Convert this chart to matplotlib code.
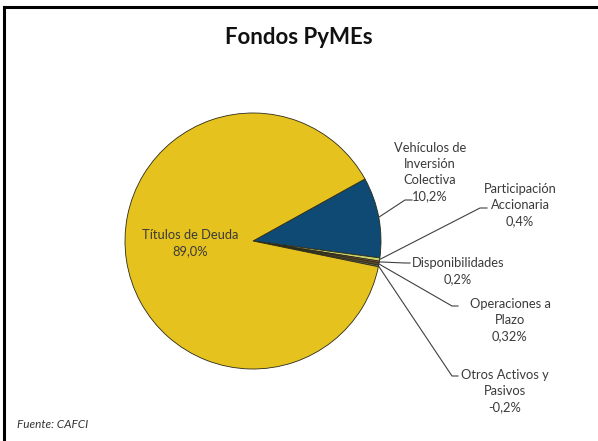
import numpy as np
import matplotlib.pyplot as plt
from matplotlib.lines import Line2D

plt.rcParams['font.family'] = ['Lato', 'DejaVu Sans']

# datos (orden horario desde el borde superior de la porcion azul)
categorias = ['Vehículos de\nInversión\nColectiva', 'Participación\nAccionaria',
              'Disponibilidades', 'Operaciones a\nPlazo',
              'Otros Activos y\nPasivos', 'Títulos de Deuda']
valores = [10.2, 0.4, 0.2, 0.32, -0.2, 89.0]
etiquetas = ['10,2%', '0,4%', '0,2%', '0,32%', '-0,2%', '89,0%']
colores = ['#0E4A74', '#C9D46A', '#B0603A', '#5A4A2A', '#7F7F7F', '#E6C21E']

W, H = 598, 441
fig = plt.figure(figsize=(W / 100, H / 100), dpi=100)
ax = fig.add_axes([0, 0, 1, 1])

cx, cy, r = 253, H - 241, 128
wedges, _ = ax.pie(np.abs(valores), colors=colores, startangle=29, counterclock=False,
                   center=(cx, cy), radius=r, frame=True,
                   wedgeprops=dict(edgecolor='#2b2b1a', linewidth=0.6))
ax.set_xlim(0, W)
ax.set_ylim(0, H)
ax.set_aspect('equal')
ax.axis('off')

# posiciones de las etiquetas (pixeles): centro del texto, fin del conector
pos = [(430, 172, (405, 200), (412, 200)),
       (520, 205, (480, 208), (487, 208)),
       (458, 271, (405, 263), (410, 263)),
       (510, 320, (452, 306), (458, 306)),
       (505, 391, (452, 376), (458, 376))]

txtcol = '#3a3a3a'
for w, cat, lab, (tx, ty, p1, p2) in zip(wedges[:5], categorias[:5], etiquetas[:5], pos):
    ang = np.deg2rad((w.theta1 + w.theta2) / 2)
    x0, y0 = cx + r * np.cos(ang), cy + r * np.sin(ang)
    ax.plot([x0, p1[0], p2[0]], [y0, H - p1[1], H - p2[1]], color='#404040', lw=0.8)
    ax.text(tx, H - ty, cat + '\n' + lab, ha='center', va='center', fontsize=9.3,
            color=txtcol, linespacing=1.4)

ax.text(190, H - 243, categorias[5] + '\n' + etiquetas[5], ha='center', va='center',
        fontsize=9.3, color=txtcol, linespacing=1.4)

fig.text(299 / W, 1 - 38 / H, 'Fondos PyMEs', ha='center', va='center',
         fontsize=16, fontweight='bold', color='#111111')
fig.text(17 / W, 1 - 424 / H, 'Fuente: CAFCI', ha='left', va='center',
         fontsize=8.5, style='italic', color='#333333')

# marco superior e izquierdo
fig.add_artist(Line2D([4 / W, 1], [1 - 7 / H, 1 - 7 / H], color='black', lw=2.2))
fig.add_artist(Line2D([4 / W, 4 / W], [0, 1 - 7 / H], color='black', lw=2.2))

fig.savefig('out.png', dpi=100)
